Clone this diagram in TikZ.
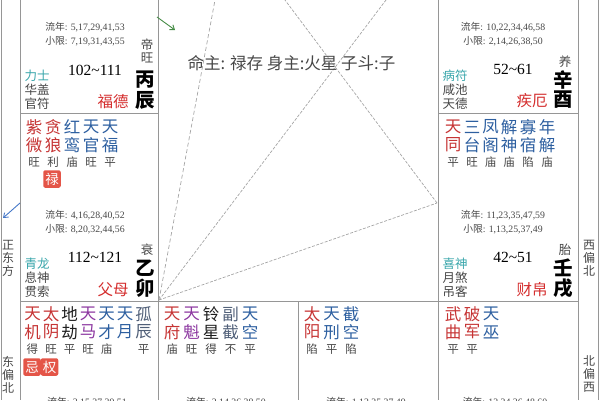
\documentclass[tikz,border=0pt]{standalone}
\usepackage{fontspec}
\newfontfamily\cjk{Noto Sans CJK SC}
\newfontfamily\numf{Liberation Serif}
\usetikzlibrary{arrows.meta}
\definecolor{gridc}{RGB}{150,150,150}
\definecolor{starred}{RGB}{198,52,52}
\definecolor{starblue}{RGB}{45,95,160}
\definecolor{starslate}{RGB}{80,95,120}
\definecolor{starpur}{RGB}{140,55,160}
\definecolor{starblack}{RGB}{30,30,30}
\definecolor{tealc}{RGB}{55,165,170}
\definecolor{txtgrey}{RGB}{70,70,70}
\definecolor{palred}{RGB}{212,45,45}
\definecolor{boxred}{RGB}{228,85,72}
\definecolor{dashc}{RGB}{165,165,165}
\definecolor{arrgreen}{RGB}{70,140,70}
\definecolor{arrblue}{RGB}{70,120,200}
\tikzset{
 grid/.style={draw=gridc, line width=0.8pt},
 starch/.style={font=\cjk\fontsize{16.5}{16.5}\selectfont, inner sep=0pt},
 bright/.style={font=\cjk\fontsize{11.5}{12}\selectfont, text=txtgrey, inner sep=0pt},
 small/.style={font=\cjk\fontsize{12.5}{12.5}\selectfont, text=txtgrey, inner sep=0pt},
 god/.style={small, text=tealc},
 palace/.style={font=\cjk\fontsize{15.5}{15.5}\selectfont, text=palred, inner sep=0pt},
 ganzhi/.style={font=\cjk\bfseries\fontsize{19.5}{19.5}\selectfont, text=black, inner sep=0pt},
 agerange/.style={font=\numf\fontsize{15.5}{15.5}\selectfont, text=black, inner sep=0pt},
 yearline/.style={font=\numf\fontsize{9.8}{10}\selectfont, text=txtgrey, inner sep=0pt},
 hua/.style={fill=boxred, rounded corners=2pt, text=white, font=\cjk\fontsize{13.5}{13.5}\selectfont, minimum size=17.5pt, inner sep=0pt},
 dirtext/.style={font=\cjk\fontsize{12}{12}\selectfont, text=txtgrey, inner sep=0pt},
 aspect/.style={draw=dashc, line width=0.7pt, dash pattern=on 3pt off 1.5pt},
 aspectlong/.style={draw=dashc, line width=0.7pt, dash pattern=on 4pt off 2.5pt},
 centertext/.style={font=\cjk\fontsize{16.5}{16.5}\selectfont, text=txtgrey, inner sep=0pt},
}
% name, x, ytop, colour, char1, char2, brightness
\newcommand\starcol[7]{%
 \node[starch,text=#4] (#1a) at (#2,#3) {#5};
 \node[starch,text=#4] (#1b) at (#2,#3+18) {#6};
 \node[bright] (#1c) at (#2,#3+35.5) {#7};}
\begin{document}
\begin{tikzpicture}[x=1pt,y=-1pt]
\useasboundingbox (0,0) rectangle (600,400);
% grid
\draw[grid] (1.5,0) -- (1.5,400);
\draw[grid] (20,0) -- (20,400);
\draw[grid] (158,0) -- (158,400);
\draw[grid] (438,0) -- (438,400);
\draw[grid] (578,0) -- (578,400);
\draw[grid] (598.5,0) -- (598.5,400);
\draw[grid] (298,301) -- (298,400);
\draw[grid] (20,113) -- (158,113);
\draw[grid] (438,113) -- (578,113);
\draw[grid] (20,301) -- (578,301);
% centre lines
\coordinate (P) at (159,300);
\coordinate (R) at (437,203);
\coordinate (T1) at (215,0);
\coordinate (T2) at (386,0);
\coordinate (T3) at (285,0);
\draw[aspectlong] (P) -- (T1);
\draw[aspect] (P) -- (T2);
\draw[aspect] (P) -- (R);
\draw[aspect] (R) -- (T3);
\node[centertext] (ming) at (291.5,63) {命主: 禄存 身主:火星 子斗:子};
% arrows
\coordinate (g1) at (157,17);
\coordinate (g2) at (175,30);
\draw[arrgreen, line width=0.9pt, -{Straight Barb[length=4pt,width=6pt]}] (g1) -- (g2);
\coordinate (b1) at (20,203);
\coordinate (b2) at (3,218);
\draw[arrblue, line width=0.9pt, -{Straight Barb[length=4pt,width=6pt]}] (b1) -- (b2);
% side directions
\node[dirtext] (d1a) at (8,245) {正};
\node[dirtext] (d1b) at (8,258) {东};
\node[dirtext] (d1c) at (8,271) {方};
\node[dirtext] (d2a) at (8,362) {东};
\node[dirtext] (d2b) at (8,375) {偏};
\node[dirtext] (d2c) at (8,388) {北};
\node[dirtext] (d3a) at (589,245) {西};
\node[dirtext] (d3b) at (589,258) {偏};
\node[dirtext] (d3c) at (589,271) {北};
\node[dirtext] (d4a) at (589,361) {北};
\node[dirtext] (d4b) at (589,374) {偏};
\node[dirtext] (d4c) at (589,387) {西};
% ===== 辰 info (L=20,B=113)
\node[yearline] (chenln) at (85,27) {{\cjk 流年}: 5,17,29,41,53};
\node[yearline] (chenxx) at (85,41) {{\cjk 小限}: 7,19,31,43,55};
\node[small] (chenst1) at (147,45) {帝};
\node[small] (chenst2) at (147,58) {旺};
\node[agerange] (chenage) at (95,70) {102\char`~111};
\node[ganzhi] (chengan) at (145,80) {丙};
\node[ganzhi] (chenzhi) at (145,100) {辰};
\node[god] (chengod) at (37,76) {力士};
\node[small] (chens1) at (37,90) {华盖};
\node[small] (chens2) at (37,104) {官符};
\node[palace] (chenpal) at (113,102) {福德};
% ===== 卯 stars (L=20,T=113)
\starcol{maoA}{34}{127}{starred}{紫}{微}{旺}
\starcol{maoB}{53}{127}{starred}{贪}{狼}{利}
\starcol{maoC}{72}{127}{starblue}{红}{鸾}{庙}
\starcol{maoD}{91}{127}{starblue}{天}{官}{旺}
\starcol{maoE}{110}{127}{starblue}{天}{福}{平}
\node[hua] (maolu) at (52,179) {禄};
% ===== 卯 info (B=301)
\node[yearline] (maoln) at (85,215) {{\cjk 流年}: 4,16,28,40,52};
\node[yearline] (maoxx) at (85,229) {{\cjk 小限}: 8,20,32,44,56};
\node[small] (maost) at (147,250) {衰};
\node[agerange] (maoage) at (95,257) {112\char`~121};
\node[ganzhi] (maogan) at (145,268) {乙};
\node[ganzhi] (maozhi) at (145,288) {卯};
\node[god] (maogod) at (37,264) {青龙};
\node[small] (maos1) at (37,278) {息神};
\node[small] (maos2) at (37,292) {贯索};
\node[palace] (maopal) at (113,290) {父母};
% ===== 寅 stars (L=20,T=301)
\starcol{yinA}{32.5}{314}{starred}{天}{机}{得}
\starcol{yinB}{51}{314}{starred}{太}{阴}{旺}
\starcol{yinC}{69.5}{314}{starblack}{地}{劫}{平}
\starcol{yinD}{88}{314}{starpur}{天}{马}{旺}
\starcol{yinE}{106.5}{314}{starblue}{天}{才}{庙}
\starcol{yinF}{125}{314}{starblue}{天}{月}{}
\starcol{yinG}{143.5}{314}{starslate}{孤}{辰}{平}
\node[hua] (yinji) at (32,367) {忌};
\node[hua] (yinquan) at (49.5,367) {权};
% ===== 丑 stars (L=158)
\starcol{chouA}{172}{314}{starred}{天}{府}{庙}
\starcol{chouB}{191.5}{314}{starpur}{天}{魁}{旺}
\starcol{chouC}{211}{314}{starblack}{铃}{星}{得}
\starcol{chouD}{230.5}{314}{starslate}{副}{截}{不}
\starcol{chouE}{250}{314}{starblue}{天}{空}{平}
% ===== 子 stars (L=298)
\starcol{ziA}{312}{314}{starred}{太}{阳}{陷}
\starcol{ziB}{331.5}{314}{starblue}{天}{刑}{平}
\starcol{ziC}{351}{314}{starblue}{截}{空}{陷}
% ===== 亥 stars (L=438)
\starcol{haiA}{453}{314}{starred}{武}{曲}{平}
\starcol{haiB}{472}{314}{starred}{破}{军}{平}
\starcol{haiC}{491}{314}{starblue}{天}{巫}{}
% ===== 酉 info (L=438,B=113)
\node[yearline] (youln) at (503,27) {{\cjk 流年}: 10,22,34,46,58};
\node[yearline] (youxx) at (503,41) {{\cjk 小限}: 2,14,26,38,50};
\node[small] (youst) at (565,62) {养};
\node[agerange] (youage) at (513,69) {52\char`~61};
\node[ganzhi] (yougan) at (563,80) {辛};
\node[ganzhi] (youzhi) at (563,100) {酉};
\node[god] (yougod) at (455,76) {病符};
\node[small] (yous1) at (455,90) {咸池};
\node[small] (yous2) at (455,104) {天德};
\node[palace] (youpal) at (532,101) {疾厄};
% ===== 戌 stars (L=438,T=113)
\starcol{xuA}{453}{127}{starred}{天}{同}{平}
\starcol{xuB}{472}{127}{starblue}{三}{台}{旺}
\starcol{xuC}{490.5}{127}{starblue}{凤}{阁}{庙}
\starcol{xuD}{509}{127}{starblue}{解}{神}{庙}
\starcol{xuE}{528}{127}{starblue}{寡}{宿}{陷}
\starcol{xuF}{547}{127}{starblue}{年}{解}{庙}
% ===== 戌 info (B=301)
\node[yearline] (xuln) at (503,215) {{\cjk 流年}: 11,23,35,47,59};
\node[yearline] (xuxx) at (503,229) {{\cjk 小限}: 1,13,25,37,49};
\node[small] (xust) at (565,250) {胎};
\node[agerange] (xuage) at (513,257) {42\char`~51};
\node[ganzhi] (xugan) at (563,268) {壬};
\node[ganzhi] (xuzhi) at (563,288) {戌};
\node[god] (xugod) at (455,264) {喜神};
\node[small] (xus1) at (455,278) {月煞};
\node[small] (xus2) at (455,292) {吊客};
\node[palace] (xupal) at (532,290) {财帛};
% ===== cut-off year lines of bottom row (the reference shows only their tops)
\begin{scope}
\clip (0,0) rectangle (600,400);
\node[yearline] (yinln) at (87,402.5) {{\cjk 流年}: 3,15,27,39,51};
\node[yearline] (chouln) at (226,402.5) {{\cjk 流年}: 2,14,26,38,50};
\node[yearline] (ziln) at (366,402.5) {{\cjk 流年}: 1,13,25,37,49};
\node[yearline] (hailn) at (505,402.5) {{\cjk 流年}: 12,24,36,48,60};
\end{scope}
\end{tikzpicture}
\end{document}
